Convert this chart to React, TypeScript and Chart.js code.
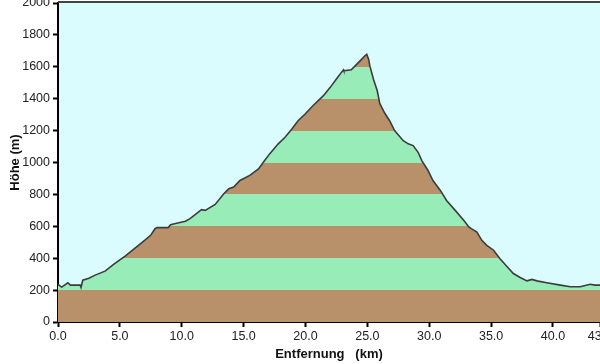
import React, { useEffect, useRef } from "react";
import { Chart, registerables } from "chart.js";

Chart.register(...registerables);

const distanceKm = [
  0.0, 0.3, 0.8, 1.0, 1.8, 1.86, 2.0, 2.5, 3.0, 3.8, 4.6, 5.4, 6.2, 7.0, 7.5, 7.84, 8.0, 8.9, 9.1, 9.5,
  10.3, 10.67, 11.6, 11.9, 12.7, 13.4, 13.8, 14.2, 14.7, 15.5, 16.2, 16.7, 17.1, 17.8, 18.35, 18.9, 19.4,
  19.97, 20.6, 21.45, 22.0, 22.5, 22.9, 23.07, 23.1, 23.7, 24.15, 24.55, 24.8, 24.95, 25.1, 25.2, 25.5,
  25.8, 26.0, 26.4, 26.8, 27.2, 27.9, 28.3, 28.7, 29.1, 29.4, 29.9, 30.3, 30.9, 31.4, 32.1, 32.8, 33.2,
  33.4, 33.85, 34.25, 34.65, 35.2, 35.7, 36.3, 36.8, 37.35, 37.9, 38.3, 38.7, 39.5, 40.6, 41.4, 42.2,
  43.0, 43.4, 43.8,
];

const elevationM = [
  235, 219, 246, 231, 231, 217, 262, 275, 294, 319, 367, 412, 462, 512, 545, 585, 592, 592, 610, 617,
  632, 648, 704, 700, 737, 804, 835, 846, 887, 919, 960, 1012, 1054, 1117, 1158, 1210, 1262,
  1304, 1356, 1419, 1471, 1523, 1565, 1581, 1575, 1581, 1617, 1648, 1669, 1678, 1648, 1606, 1520,
  1450, 1370, 1310, 1262, 1200, 1137, 1117, 1106, 1064, 1012, 950, 887, 825, 762, 700, 637, 596,
  585, 564, 512, 481, 450, 398, 346, 304, 279, 258, 267, 258, 246, 231, 221, 221,
  237, 231, 231,
];

const xTickValues = [0, 5, 10, 15, 20, 25, 30, 35, 40, 43.8];
const bandEdges = [0, 200, 400, 600, 800, 1000, 1200, 1400, 1600, 1800, 2000];
const bandColors = ["#b8906a", "#98ecb8"];

const X_TITLE = "Entfernung   (km)";
const Y_TITLE = "Höhe (m)";

const plotBackground = {
  id: "plotBackground",
  beforeDraw(chart: any) {
    const { ctx, chartArea } = chart;
    if (!chartArea) return;
    ctx.save();
    ctx.fillStyle = "#dafcfe";
    ctx.fillRect(chartArea.left, chartArea.top, chartArea.right - chartArea.left, chartArea.bottom - chartArea.top);
    ctx.restore();
  },
  afterDraw(chart: any) {
    const { ctx, chartArea } = chart;
    ctx.save();
    ctx.strokeStyle = "#444";
    ctx.lineWidth = 2;
    ctx.beginPath();
    ctx.moveTo(chartArea.left, chartArea.top - 1);
    ctx.lineTo(chartArea.right, chartArea.top - 1);
    ctx.stroke();
    ctx.restore();
  },
};

export default function App() {
  const ref = useRef<HTMLCanvasElement | null>(null);

  useEffect(() => {
    document.body.style.margin = "0";
    const canvas = ref.current!;
    const points = distanceKm.map((x, i) => ({ x, y: elevationM[i] }));

    const chart = new Chart(canvas, {
      type: "line",
      data: {
        datasets: [
          {
            data: points,
            borderColor: "#3c3c3c",
            borderWidth: 1.6,
            pointRadius: 0,
            tension: 0,
            fill: "origin",
            backgroundColor: (c: any) => {
              const ch = c.chart;
              const ys = ch.scales && ch.scales.y;
              if (!ch.chartArea || !ys) return "#b8906a";
              const y0 = ys.getPixelForValue(bandEdges[0]);
              const y1 = ys.getPixelForValue(bandEdges[bandEdges.length - 1]);
              const g = ch.ctx.createLinearGradient(0, y0, 0, y1);
              const span = bandEdges[bandEdges.length - 1] - bandEdges[0];
              for (let i = 0; i < bandEdges.length - 1; i++) {
                const col = bandColors[i % 2];
                g.addColorStop((bandEdges[i] - bandEdges[0]) / span, col);
                g.addColorStop((bandEdges[i + 1] - bandEdges[0]) / span, col);
              }
              return g;
            },
          },
        ],
      },
      options: {
        animation: false,
        responsive: false,
        events: [],
        layout: { autoPadding: false, padding: { top: 3, left: 7, right: 0, bottom: 0 } } as any,
        plugins: { legend: { display: false }, tooltip: { enabled: false } },
        scales: {
          x: {
            type: "linear",
            min: 0,
            max: 43.8,
            afterBuildTicks: (s: any) => {
              s.ticks = xTickValues.map((v) => ({ value: v }));
            },
            afterFit: (s: any) => {
              s.height = 42;
              s.paddingLeft = 0;
              s.paddingRight = 0;
            },
            ticks: {
              autoSkip: false,
              maxRotation: 0,
              padding: 2,
              color: "#222",
              font: { family: "Liberation Sans, Arial, sans-serif", size: 12.5 },
              callback: (v: any) => Number(v).toFixed(1),
            },
            grid: {
              display: true,
              drawOnChartArea: false,
              drawTicks: true,
              tickLength: 5,
              tickColor: "#000",
              tickWidth: 2,
            },
            border: { display: true, color: "#000", width: 2 },
            title: {
              display: true,
              text: X_TITLE,
              color: "#111",
              font: { family: "Liberation Sans, Arial, sans-serif", size: 13, weight: "bold" },
              padding: { top: 0, bottom: 2 },
            },
          },
          y: {
            type: "linear",
            min: 0,
            max: 2000,
            afterFit: (s: any) => {
              s.width = 51;
              s.paddingTop = 0;
              s.paddingBottom = 0;
            },
            ticks: {
              stepSize: 200,
              padding: 3,
              color: "#222",
              font: { family: "Liberation Sans, Arial, sans-serif", size: 12.5 },
              callback: (v: any) => String(v),
            },
            grid: {
              display: true,
              drawOnChartArea: false,
              drawTicks: true,
              tickLength: 5,
              tickColor: "#000",
              tickWidth: 2,
            },
            border: { display: true, color: "#000", width: 2 },
            title: {
              display: true,
              text: Y_TITLE,
              color: "#111",
              font: { family: "Liberation Sans, Arial, sans-serif", size: 13, weight: "bold" },
              padding: { top: 1, bottom: 0 },
            },
          },
        },
      },
      plugins: [plotBackground],
    });

    return () => chart.destroy();
  }, []);

  return (
    <div style={{ position: "fixed", left: 0, top: 0, width: 600, height: 364, background: "#fff" }}>
      <canvas ref={ref} width={600} height={364} style={{ display: "block" }} />
    </div>
  );
}
